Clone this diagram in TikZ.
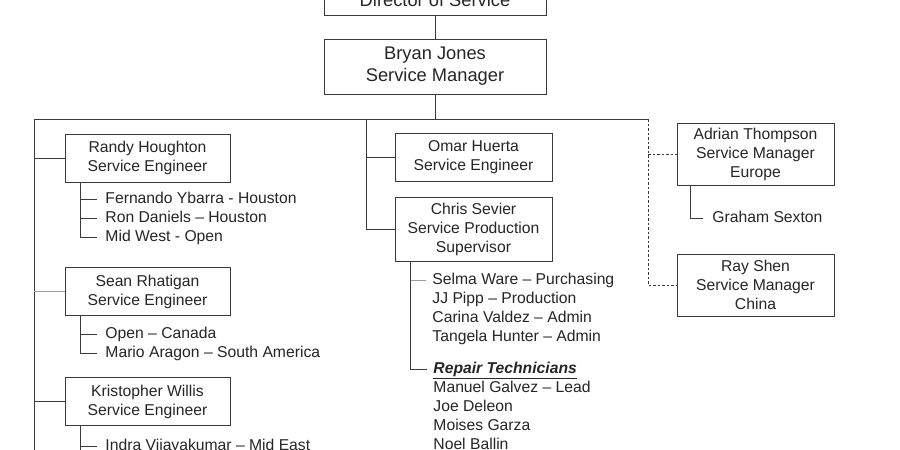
\documentclass[tikz,border=0pt]{standalone}
\usepackage{fontspec}
\setmainfont{Liberation Sans}
\usetikzlibrary{positioning}
\definecolor{inkgray}{HTML}{262626}
\definecolor{linegray}{HTML}{3A3A3A}
\definecolor{lightline}{HTML}{9C9C9C}

\begin{document}
\begin{tikzpicture}[x=1pt, y=-1pt, auto, line width=0.9pt, color=linegray]
        % Estilos para las cajas, los nombres y las lineas
        \tikzstyle{bigbox} = [draw, rectangle, align=center, text=inkgray, inner sep=0pt, minimum width=222pt, minimum height=55pt, font=\fontsize{18.3}{22}\selectfont]
        \tikzstyle{engbox} = [draw, rectangle, align=center, text=inkgray, inner sep=0pt, minimum width=165pt, minimum height=48pt, font=\fontsize{15.7}{19}\selectfont]
        \tikzstyle{midbox} = [engbox, minimum width=157pt]
        \tikzstyle{item} = [inner sep=0pt, text=inkgray, text height=11.5pt, text depth=3.3pt, font=\fontsize{15.7}{19}\selectfont]
        \tikzstyle{dashedline} = [dash pattern=on 2.5pt off 2pt, line width=0.8pt]
        \useasboundingbox (0,0) rectangle (900,450);
        \clip (0,0) rectangle (900,450);
        \fill[white] (0,0) rectangle (900,450);
       % Boxes
       \node [bigbox, minimum height=30pt] (director) at (435,0) {Director of Service}; % Top box, cut by the frame
       \node [bigbox] (manager) at (435,66.5) {Bryan Jones\\Service Manager}; % Service manager
       \node [engbox] (randy) at (147.5,158) {Randy Houghton\\Service Engineer}; % First engineer
       \node [engbox] (sean) at (147.5,291.5) {Sean Rhatigan\\Service Engineer}; % Second engineer
       \node [engbox] (kris) at (147.5,401.5) {Kristopher Willis\\Service Engineer}; % Third engineer
       \node [midbox] (omar) at (473.5,157) {Omar Huerta\\Service Engineer}; % Middle engineer
       \node [midbox, minimum height=64pt] (chris) at (473.5,229) {Chris Sevier\\Service Production\\Supervisor}; % Production supervisor
       \node [midbox, minimum height=62pt] (adrian) at (755.5,154) {Adrian Thompson\\Service Manager\\Europe}; % Europe
       \node [midbox, minimum height=62pt] (ray) at (755.5,285) {Ray Shen\\Service Manager\\China}; % China
       % Names under the boxes
       \node [item, anchor=west] (fernando) at (105,199.5) {Fernando Ybarra - Houston};
       \node [item, on grid, below=19pt of fernando.west, anchor=west] (ron) {Ron Daniels -- Houston};
       \node [item, on grid, below=19pt of ron.west, anchor=west] (midwest) {Mid West - Open};
       \node [item, anchor=west] (openca) at (105,334.5) {Open -- Canada};
       \node [item, on grid, below=19pt of openca.west, anchor=west] (mario) {Mario Aragon -- South America};
       \node [item, anchor=west] (indra) at (105,446.5) {Indra Vijayakumar -- Mid East};
       \node [item, anchor=west] (selma) at (432,280.5) {Selma Ware -- Purchasing};
       \node [item, on grid, below=19pt of selma.west, anchor=west] (jjpipp) {JJ Pipp -- Production};
       \node [item, on grid, below=19pt of jjpipp.west, anchor=west] (carina) {Carina Valdez -- Admin};
       \node [item, on grid, below=19pt of carina.west, anchor=west] (tangela) {Tangela Hunter -- Admin};
       \node [item, anchor=west] (repair) at (433,369.5) {\textbf{\textit{\underline{Repair Technicians}}}};
       \node [item, on grid, below=19pt of repair.west, anchor=west] (manuel) {Manuel Galvez -- Lead};
       \node [item, on grid, below=19pt of manuel.west, anchor=west] (joe) {Joe Deleon};
       \node [item, on grid, below=19pt of joe.west, anchor=west] (moises) {Moises Garza};
       \node [item, on grid, below=19pt of moises.west, anchor=west] (noel) {Noel Ballin};
       \node [item, anchor=west] (graham) at (712,218.5) {Graham Sexton};
       % Elbows
       \node [coordinate] (bus) at (435,119) {}; % Main bus below the manager
       \node [coordinate] (busLeft) at (34,119) {};
       \node [coordinate] (busMid) at (366,119) {};
       \node [coordinate] (busRight) at (648,119) {};
       \node [coordinate] (leftEnd) at (34,460) {};
       \node [coordinate] (randyDrop) at ([xshift=16pt]randy.south west) {};
       \node [coordinate] (seanDrop) at ([xshift=16pt]sean.south west) {};
       \node [coordinate] (krisDrop) at ([xshift=16pt]kris.south west) {};
       \node [coordinate] (chrisDrop) at ([xshift=16pt]chris.south west) {};
       \node [coordinate] (adrianDrop) at ([xshift=14pt]adrian.south west) {};
       % Connections
       \draw[-] (director) -- (manager);
       \draw[-] (manager) -- (bus);
       \draw[-] (busLeft) -- (busRight);
       \draw[-] (busLeft) -- (leftEnd);
       \draw[-] (busLeft |- randy.west) -- (randy.west);
       \draw[lightline] (busLeft |- sean.west) -- (sean.west);
       \draw[-] (busLeft |- kris.west) -- (kris.west);
       \draw[-] (busMid) |- (chris.west);
       \draw[-] (busMid |- omar.west) -- (omar.west);
       \draw[dashedline] (busRight) |- (ray.west);
       \draw[dashedline] (busRight |- adrian.west) -- (adrian.west);
       \draw[-] (randyDrop) |- ([xshift=-8pt]midwest.west);
       \draw[-] (randyDrop |- fernando.west) -- ([xshift=-8pt]fernando.west);
       \draw[-] (randyDrop |- ron.west) -- ([xshift=-8pt]ron.west);
       \draw[-] (seanDrop) |- ([xshift=-8pt]mario.west);
       \draw[-] (seanDrop |- openca.west) -- ([xshift=-8pt]openca.west);
       \draw[-] (krisDrop) -- (krisDrop |- leftEnd);
       \draw[-] (krisDrop |- indra.west) -- ([xshift=-8pt]indra.west);
       \draw[-] (chrisDrop) |- ([xshift=-6pt]repair.west);
       \draw[lightline] (chrisDrop |- selma.west) -- ([xshift=-6pt]selma.west);
       \draw[-] (adrianDrop) |- ([xshift=-9pt]graham.west);
\end{tikzpicture}
\end{document}
